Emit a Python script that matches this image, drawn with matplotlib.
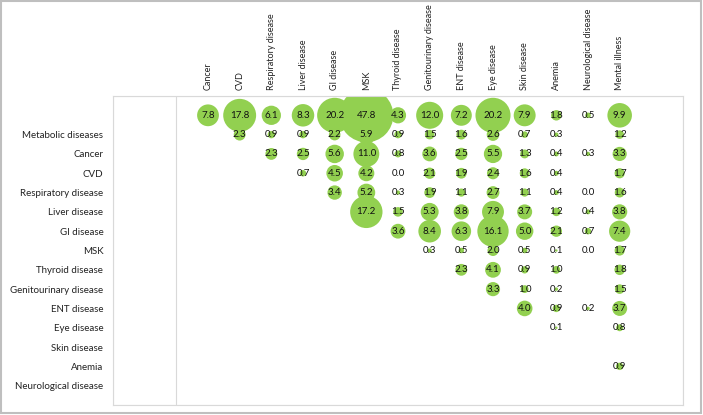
import numpy as np
import matplotlib.pyplot as plt
from matplotlib.patches import Rectangle

plt.rcParams['font.family'] = ['Lato', 'DejaVu Sans']

# column categories (shown at the top)
col_labels = ['Cancer', 'CVD', 'Respiratory disease', 'Liver disease', 'GI disease', 'MSK',
              'Thyroid disease', 'Genitourinary disease', 'ENT disease', 'Eye disease',
              'Skin disease', 'Anemia', 'Neurological disease', 'Mental illness']

# row categories (first row has no label)
row_labels = ['', 'Metabolic diseases', 'Cancer', 'CVD', 'Respiratory disease', 'Liver disease',
              'GI disease', 'MSK', 'Thyroid disease', 'Genitourinary disease', 'ENT disease',
              'Eye disease', 'Skin disease', 'Anemia', 'Neurological disease']

N = None
# values per row, one entry per column (None = empty cell)
r_total = [7.8, 17.8, 6.1, 8.3, 20.2, 47.8, 4.3, 12.0, 7.2, 20.2, 7.9, 1.8, 0.5, 9.9]
r_metabolic = [N, 2.3, 0.9, 0.9, 2.2, 5.9, 0.9, 1.5, 1.6, 2.6, 0.7, 0.3, N, 1.2]
r_cancer = [N, N, 2.3, 2.5, 5.6, 11.0, 0.8, 3.6, 2.5, 5.5, 1.3, 0.4, 0.3, 3.3]
r_cvd = [N, N, N, 0.7, 4.5, 4.2, 0.0, 2.1, 1.9, 2.4, 1.6, 0.4, N, 1.7]
r_resp = [N, N, N, N, 3.4, 5.2, 0.3, 1.9, 1.1, 2.7, 1.1, 0.4, 0.0, 1.6]
r_liver = [N, N, N, N, N, 17.2, 1.5, 5.3, 3.8, 7.9, 3.7, 1.2, 0.4, 3.8]
r_gi = [N, N, N, N, N, N, 3.6, 8.4, 6.3, 16.1, 5.0, 2.1, 0.7, 7.4]
r_msk = [N, N, N, N, N, N, N, 0.3, 0.5, 2.0, 0.5, 0.1, 0.0, 1.7]
r_thyroid = [N, N, N, N, N, N, N, N, 2.3, 4.1, 0.9, 1.0, N, 1.8]
r_genito = [N, N, N, N, N, N, N, N, N, 3.3, 1.0, 0.2, N, 1.5]
r_ent = [N, N, N, N, N, N, N, N, N, N, 4.0, 0.9, 0.2, 3.7]
r_eye = [N, N, N, N, N, N, N, N, N, N, N, 0.1, N, 0.8]
r_skin = [N] * 14
r_anemia = [N, N, N, N, N, N, N, N, N, N, N, N, N, 0.9]
r_neuro = [N] * 14

rows = [r_total, r_metabolic, r_cancer, r_cvd, r_resp, r_liver, r_gi, r_msk,
        r_thyroid, r_genito, r_ent, r_eye, r_skin, r_anemia, r_neuro]

fig = plt.figure(figsize=(7.03, 4.15), dpi=100)
ax = fig.add_axes([113 / 703, 1 - 405 / 415, 570 / 703, 309 / 415])

xs, ys, vs = [], [], []
nrow = len(rows)
for i, row in enumerate(rows):
    for j, v in enumerate(row):
        if v is None:
            continue
        xs.append(j + 1)
        ys.append(nrow - i)
        vs.append(v)
xs = np.array(xs)
ys = np.array(ys)
vs = np.array(vs)

# bubble area proportional to value
diam_pt = 7.8 * 0.72 * np.sqrt(vs)
ax.scatter(xs, ys, s=diam_pt ** 2, color='#92d050', edgecolors='none', zorder=2)
for x, y, v in zip(xs, ys, vs):
    ax.text(x, y, '%.1f' % v, ha='center', va='center', fontsize=7, color='#111111', zorder=3)

ax.set_xlim(-2, 16)
ax.set_ylim(0, 16)

ax.set_xticks(np.arange(1, 15))
ax.set_xticklabels(col_labels, rotation=90, fontsize=6.5, color='#222222')
ax.xaxis.tick_top()
ax.set_yticks(np.arange(nrow, 0, -1))
ax.set_yticklabels(row_labels, fontsize=7, color='#222222')
ax.tick_params(axis='both', which='major', length=0)
ax.tick_params(axis='x', pad=4)
ax.tick_params(axis='y', pad=7)

ax.set_xticks(np.arange(-2, 17, 2), minor=True)
ax.set_yticks(np.arange(0, 17, 2), minor=True)
ax.tick_params(which='minor', length=0)
ax.grid(which='minor', color='#d9d9d9', linewidth=0.8, zorder=0)
ax.set_axisbelow(True)
for sp in ax.spines.values():
    sp.set_color('#d9d9d9')
    sp.set_linewidth(0.8)

fig.patches.append(Rectangle((0.002, 0.004), 0.995, 0.993, transform=fig.transFigure,
                             fill=False, edgecolor='#bfbfbf', linewidth=1.5))

plt.savefig('out.png', dpi=100)
plt.close()
